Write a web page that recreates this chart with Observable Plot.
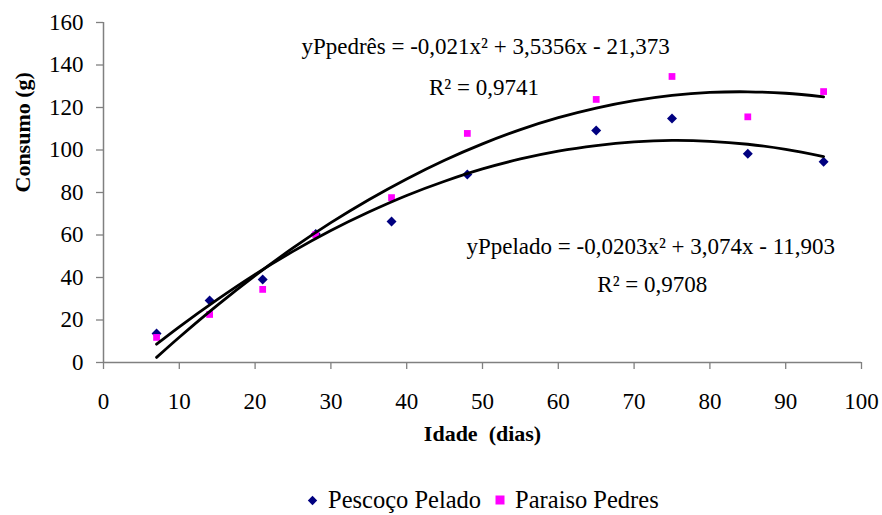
<!DOCTYPE html>
<html><head><meta charset="utf-8">
<script src="https://cdn.jsdelivr.net/npm/d3@7"></script>
<script src="https://cdn.jsdelivr.net/npm/@observablehq/plot@0.6"></script>
</head><body style="margin:0;background:#fff">
<div id="wrap" style="position:relative;width:882px;height:515px;overflow:hidden">
<div id="chart"></div>
<div id="legend" style="position:absolute;left:0;top:488px;width:882px;height:24px;box-sizing:border-box;padding-left:307px;display:flex;justify-content:flex-start;align-items:center;font-family:'Liberation Serif';font-size:24.5px;color:#000;white-space:nowrap"></div>
</div>
<script>
// Data
const idade = [7, 14, 21, 28, 38, 48, 65, 75, 85, 95];
const peladoConsumo = [13.6, 29.2, 39.1, 60.5, 66.4, 88.5, 109.2, 114.8, 98.2, 94.5];
const pedresConsumo = [11.8, 22.6, 34.4, 60.2, 77.6, 107.8, 123.8, 134.6, 115.6, 127.5];

// Trend lines
const curveIdade = [7, 10, 15, 20, 25, 30, 35, 40, 45, 50, 55, 60, 65, 70, 75, 80, 85, 90, 95];
const curvePelado = [8.6, 16.8, 29.6, 41.5, 52.3, 62.1, 70.8, 78.6, 85.3, 91.1, 95.8, 99.5, 102.1, 103.8, 104.5, 104.1, 102.7, 100.3, 96.9];
const curvePedres = [2.4, 11.9, 26.9, 40.9, 53.9, 65.8, 76.6, 86.4, 95.2, 102.9, 109.6, 115.2, 119.7, 123.2, 125.7, 127.1, 127.4, 126.7, 125.0];

const xTicks = [0, 10, 20, 30, 40, 50, 60, 70, 80, 90, 100];
const yTicks = [0, 20, 40, 60, 80, 100, 120, 140, 160];

const seriesNames = ["Pescoço Pelado", "Paraiso Pedres"];
const seriesColors = ["#000080", "#FF00FF"];
const xLabel = "Idade  (dias)";
const yLabel = "Consumo (g)";

const annotText = [
  "yPpedrês = -0,021x² + 3,5356x - 21,373",
  "R² = 0,9741",
  "yPpelado = -0,0203x² + 3,074x - 11,903",
  "R² = 0,9708"
];
const annotX = [50.4, 50.2, 72.2, 72.4];
const annotY = [148.5, 129.4, 54.4, 36.8];

const pelado = idade.map((d, i) => ({x: d, y: peladoConsumo[i]}));
const pedres = idade.map((d, i) => ({x: d, y: pedresConsumo[i]}));
const linePel = curveIdade.map((d, i) => ({x: d, y: curvePelado[i]}));
const linePed = curveIdade.map((d, i) => ({x: d, y: curvePedres[i]}));
const annots = annotText.map((t, i) => ({t, x: annotX[i], y: annotY[i]}));

const font = "Liberation Serif";
const gray = "#808080";

const chart = Plot.plot({
  width: 882,
  height: 470,
  marginLeft: 103,
  marginRight: 21,
  marginTop: 22,
  marginBottom: 108,
  style: "font-family:'Liberation Serif';font-size:23px;background:#fff;color:#000",
  x: {domain: [0, 100], ticks: xTicks},
  y: {domain: [0, 160], ticks: yTicks},
  marks: [
    Plot.axisY({ticks: yTicks, tickSize: 7, tickPadding: 13, stroke: gray, strokeWidth: 1.3, fill: "#000", label: null, fontSize: 23, fontFamily: font}),
    Plot.axisX({ticks: xTicks, tickSize: 7, tickPadding: 23, stroke: gray, strokeWidth: 1.3, fill: "#000", label: null, fontSize: 23, fontFamily: font}),
    Plot.ruleX([0], {stroke: gray, strokeWidth: 1.5}),
    Plot.ruleY([0], {stroke: gray, strokeWidth: 1.5}),
    Plot.dot(pelado, {x: "x", y: "y", symbol: "diamond2", r: 4.5, fill: seriesColors[0], stroke: "none"}),
    Plot.dot(pedres, {x: "x", y: "y", symbol: "square2", r: 4.3, fill: seriesColors[1], stroke: "none"}),
    Plot.line(linePel, {x: "x", y: "y", stroke: "#000", strokeWidth: 2.8, curve: "catmull-rom"}),
    Plot.line(linePed, {x: "x", y: "y", stroke: "#000", strokeWidth: 2.8, curve: "catmull-rom"}),
    Plot.text(annots, {x: "x", y: "y", text: "t", fontSize: 23, fontFamily: font, fill: "#000", textAnchor: "middle"}),
    Plot.text([xLabel], {frameAnchor: "bottom", dy: 78, text: d => d, fontWeight: "bold", fontSize: 22, fontFamily: font, fill: "#000"}),
    Plot.text([yLabel], {frameAnchor: "left", dx: -81, rotate: -90, text: d => d, fontWeight: "bold", fontSize: 22, fontFamily: font, fill: "#000"})
  ]
});
document.getElementById("chart").appendChild(chart);

// Legend
const legend = document.getElementById("legend");
seriesNames.forEach((name, i) => {
  const item = document.createElement("span");
  item.style.cssText = "display:flex;align-items:center;font-family:'Liberation Serif';margin-right:" + (i === 0 ? "14px" : "0");
  const sym = i === 0
    ? `<svg width="11" height="11" viewBox="-5.5 -5.5 11 11" style="margin-right:10px"><path d="M0,-4.7L4.7,0L0,4.7L-4.7,0Z" fill="${seriesColors[i]}"/></svg>`
    : `<svg width="10" height="10" viewBox="0 0 10 10" style="margin-right:10px"><rect x="0.5" y="0.5" width="9" height="9" fill="${seriesColors[i]}"/></svg>`;
  item.innerHTML = sym + `<span style="font-family:'Liberation Serif'">${name}</span>`;
  legend.appendChild(item);
});
</script>
</body></html>
